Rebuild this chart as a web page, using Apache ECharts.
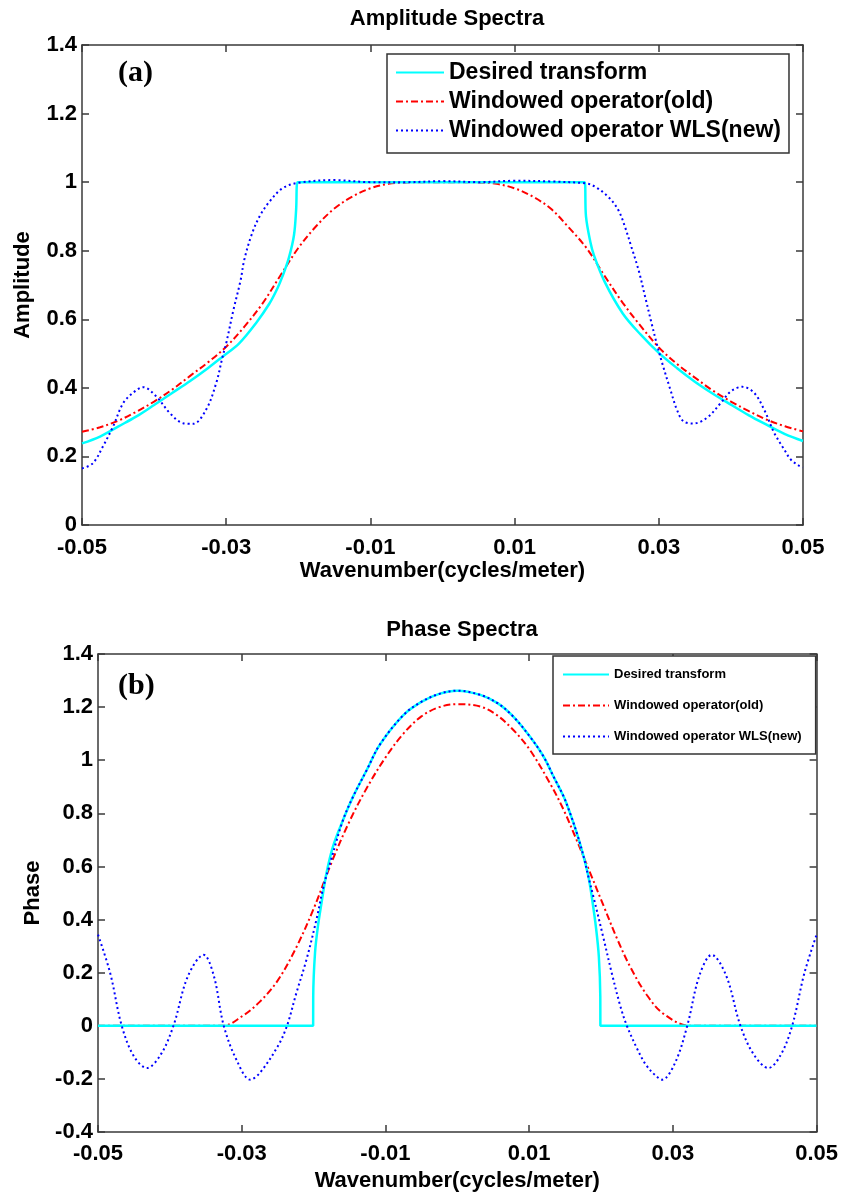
<!DOCTYPE html>
<html>
<head>
<meta charset="utf-8">
<script src="https://cdn.jsdelivr.net/npm/echarts@6/dist/echarts.min.js"></script>
<style>
html,body{margin:0;padding:0;background:#fff;}
#chart{width:841px;height:1194px;}
</style>
</head>
<body>
<div id="chart"></div>
<script>
// ---------- shared ----------
const seriesNames = ['Desired transform', 'Windowed operator(old)', 'Windowed operator WLS(new)'];
const xTicks = [-0.05, -0.03, -0.01, 0.01, 0.03, 0.05];

// ---------- (a) Amplitude spectra ----------
const ampDesiredX = [-0.05,-0.0475,-0.045,-0.0425,-0.04,-0.0375,-0.035,-0.0325,-0.0305,-0.0282,-0.0259,-0.024,-0.0229,-0.0222,-0.0213,-0.0206,-0.0203,-0.0201,0,0.0197,0.0199,0.0205,0.021,0.0225,0.025,0.0275,0.03,0.0325,0.035,0.0375,0.04,0.0425,0.045,0.0475,0.05];
const ampDesiredY = [0.238,0.258,0.287,0.316,0.35,0.385,0.42,0.458,0.491,0.53,0.588,0.646,0.69,0.725,0.78,0.845,0.92,1.0,1.0,1.0,0.90,0.826,0.787,0.709,0.617,0.555,0.502,0.458,0.418,0.383,0.351,0.32,0.292,0.265,0.245];

const ampOldX = [-0.05,-0.0475,-0.045,-0.0425,-0.04,-0.0375,-0.035,-0.0325,-0.03,-0.0275,-0.025,-0.0225,-0.02,-0.0175,-0.015,-0.0125,-0.01,-0.0075,-0.005,-0.0025,0,0.0025,0.005,0.0075,0.01,0.0125,0.015,0.0175,0.02,0.0225,0.025,0.0275,0.03,0.0325,0.035,0.0375,0.04,0.0425,0.045,0.0475,0.05];
const ampOldY = [0.272,0.285,0.304,0.33,0.36,0.395,0.435,0.475,0.52,0.578,0.645,0.727,0.808,0.872,0.923,0.958,0.982,0.995,0.999,1.0,1.0,1.0,0.999,0.995,0.982,0.958,0.923,0.868,0.807,0.726,0.648,0.58,0.518,0.47,0.43,0.392,0.36,0.332,0.307,0.288,0.273];

const ampNewX = [-0.05,-0.0485,-0.0471,-0.0457,-0.0443,-0.0429,-0.0415,-0.0397,-0.0378,-0.036,-0.0346,-0.0328,-0.0314,-0.0305,-0.03,-0.029,-0.028,-0.0275,-0.0265,-0.0254,-0.024,-0.0222,-0.02,-0.015,-0.01,-0.005,0,0.005,0.01,0.015,0.02,0.0212,0.023,0.0244,0.0253,0.0262,0.0272,0.0281,0.029,0.0297,0.0305,0.0316,0.0325,0.0334,0.0348,0.0367,0.0386,0.04,0.0416,0.0432,0.0446,0.046,0.0474,0.0483,0.0495,0.05];
const ampNewY = [0.165,0.18,0.229,0.287,0.355,0.386,0.402,0.375,0.326,0.297,0.295,0.336,0.413,0.491,0.53,0.627,0.714,0.773,0.845,0.899,0.943,0.982,0.998,1.006,1.0,1.0,1.003,1.0,1.004,1.002,0.996,0.986,0.957,0.918,0.87,0.811,0.743,0.666,0.588,0.53,0.47,0.395,0.337,0.303,0.296,0.313,0.356,0.39,0.403,0.386,0.337,0.269,0.22,0.191,0.172,0.168];

// ---------- (b) Phase spectra ----------
const phDesiredX = [-0.05,-0.02006,-0.02005,-0.0198,-0.0194,-0.0189,-0.0182,-0.0173,-0.0159,-0.0145,-0.0126,-0.0108,-0.0075,-0.005,-0.0025,0,0.0032,0.0056,0.0078,0.0101,0.012,0.0134,0.0148,0.0157,0.0167,0.0176,0.0183,0.0188,0.0193,0.0197,0.01990,0.01991,0.05];
const phDesiredY = [0,0,0.11,0.274,0.374,0.462,0.575,0.675,0.775,0.863,0.963,1.058,1.17,1.22,1.25,1.262,1.246,1.215,1.164,1.089,1.014,0.938,0.863,0.80,0.72,0.635,0.555,0.47,0.37,0.26,0.11,0,0];

const phOldX = [-0.05,-0.0326,-0.03,-0.0275,-0.025,-0.0225,-0.02,-0.0175,-0.015,-0.0125,-0.01,-0.0075,-0.005,-0.0025,0,0.0032,0.0055,0.0078,0.0101,0.0129,0.0148,0.0166,0.0185,0.0204,0.0222,0.0241,0.0264,0.0287,0.0324,0.05];
const phOldY = [0,0,0.035,0.09,0.17,0.29,0.44,0.615,0.77,0.90,1.01,1.10,1.165,1.2,1.211,1.202,1.17,1.114,1.039,0.913,0.813,0.70,0.575,0.449,0.33,0.22,0.115,0.045,0,0];

const phNewX = [-0.05,-0.0483,-0.0467,-0.045,-0.0432,-0.0413,-0.0395,-0.0375,-0.0353,-0.0339,-0.0325,-0.0307,-0.0288,-0.0275,-0.025,-0.0237,-0.0224,-0.021,-0.0196,-0.0187,-0.0177,-0.0159,-0.0145,-0.0126,-0.0108,-0.0075,-0.005,-0.0025,0,0.0032,0.0056,0.0078,0.0101,0.012,0.0134,0.0148,0.0157,0.0167,0.0176,0.0183,0.019,0.0204,0.0215,0.0227,0.0236,0.025,0.0262,0.0275,0.0285,0.0303,0.032,0.0337,0.0354,0.0374,0.0394,0.0413,0.0433,0.045,0.0466,0.0483,0.05];
const phNewY = [0.343,0.198,0,-0.115,-0.159,-0.11,0,0.186,0.267,0.19,0,-0.13,-0.203,-0.178,-0.078,0,0.123,0.248,0.40,0.515,0.612,0.775,0.863,0.963,1.058,1.17,1.22,1.25,1.262,1.246,1.215,1.164,1.089,1.014,0.938,0.863,0.80,0.72,0.635,0.555,0.48,0.324,0.198,0.073,0,-0.085,-0.145,-0.185,-0.203,-0.14,0,0.19,0.267,0.19,0,-0.11,-0.159,-0.11,0,0.198,0.343];

// ---------- build ----------
const pairs = (xs, ys) => xs.map((x, i) => [x, ys[i]]);
const FONT = '"Liberation Sans", Arial, sans-serif';
const FRAME = { color: '#3a3a3a', width: 1.5 };

const styles = [
  { color: '#00FFFF', width: 2.5, type: 'solid' },
  { color: '#FF0000', width: 2, type: [7, 3, 2, 3] },
  { color: '#0000FF', width: 2, type: [2, 3] }
];

function xAxes(grid, fontSize, labelMargin, nameGap) {
  const base = {
    gridIndex: grid, type: 'value', min: -0.05, max: 0.05,
    splitLine: { show: false },
    axisLine: { show: true, onZero: false, lineStyle: FRAME },
    axisTick: { show: true, inside: true, length: 7, customValues: xTicks, lineStyle: FRAME }
  };
  return [
    Object.assign({}, base, {
      position: 'bottom',
      axisLabel: { customValues: xTicks, formatter: v => v.toFixed(2), fontSize: fontSize, fontWeight: 'bold', fontFamily: FONT, color: '#000', margin: labelMargin },
      name: 'Wavenumber(cycles/meter)', nameLocation: 'middle', nameGap: nameGap,
      nameTextStyle: { fontSize: 22, fontWeight: 'bold', fontFamily: FONT, color: '#000' }
    }),
    Object.assign({}, base, { position: 'top', axisLabel: { show: false } })
  ];
}
function yAxes(grid, min, max, fontSize, name, nameGap) {
  const base = {
    gridIndex: grid, type: 'value', min: min, max: max, interval: 0.2,
    splitLine: { show: false },
    axisLine: { show: true, onZero: false, lineStyle: FRAME },
    axisTick: { show: true, inside: true, length: 7, lineStyle: FRAME }
  };
  return [
    Object.assign({}, base, {
      position: 'left',
      axisLabel: { formatter: v => String(+v.toFixed(1)), fontSize: fontSize, fontWeight: 'bold', fontFamily: FONT, color: '#000', margin: 5 },
      name: name, nameLocation: 'middle', nameGap: nameGap, nameRotate: 90,
      nameTextStyle: { fontSize: 22, fontWeight: 'bold', fontFamily: FONT, color: '#000' }
    }),
    Object.assign({}, base, { position: 'right', axisLabel: { show: false } })
  ];
}

const panels = [
  [pairs(ampDesiredX, ampDesiredY), pairs(ampOldX, ampOldY), pairs(ampNewX, ampNewY)],
  [pairs(phDesiredX, phDesiredY), pairs(phOldX, phOldY), pairs(phNewX, phNewY)]
];
const series = [];
panels.forEach((data, p) => {
  data.forEach((d, i) => {
    series.push({
      name: seriesNames[i], type: 'line', xAxisIndex: p * 2, yAxisIndex: p * 2,
      data: d, showSymbol: false, symbol: 'none', smooth: 0.35,
      lineStyle: styles[i], itemStyle: { color: styles[i].color },
      z: [3, 2, 4][i], animation: false
    });
  });
});

const option = {
  animation: false,
  backgroundColor: '#fff',
  title: [
    { text: 'Amplitude Spectra', left: 442, textAlign: 'center', top: 3,
      textStyle: { fontSize: 22, fontWeight: 'bold', fontFamily: FONT, color: '#000' } },
    { text: 'Phase Spectra', left: 457, textAlign: 'center', top: 614,
      textStyle: { fontSize: 22, fontWeight: 'bold', fontFamily: FONT, color: '#000' } }
  ],
  grid: [
    { left: 82, top: 45, width: 721, height: 480 },
    { left: 98, top: 654, width: 719, height: 478 }
  ],
  xAxis: xAxes(0, 22, 12, 30).concat(xAxes(1, 22, 11, 38)),
  yAxis: yAxes(0, 0, 1.4, 22, 'Amplitude', 48).concat(yAxes(1, -0.4, 1.4, 22, 'Phase', 54)),
  legend: [
    { data: seriesNames, orient: 'vertical', left: 387, top: 54, itemWidth: 48, itemHeight: 12, itemGap: 6,
      padding: [7, 8, 11, 8], borderColor: '#333', borderWidth: 1.5, backgroundColor: '#fff',
      itemStyle: { opacity: 0 },
      textStyle: { fontSize: 23, fontWeight: 'bold', fontFamily: FONT, color: '#000' }, selectedMode: false },
    { data: seriesNames, orient: 'vertical', left: 553, top: 656, itemWidth: 46, itemHeight: 12, itemGap: 18,
      padding: [12, 14, 11, 9], borderColor: '#333', borderWidth: 1.5, backgroundColor: '#fff',
      itemStyle: { opacity: 0 },
      textStyle: { fontSize: 13, fontWeight: 'bold', fontFamily: FONT, color: '#000' }, selectedMode: false }
  ],
  graphic: [
    { type: 'text', left: 118, top: 58, style: { text: '(a)', font: 'bold 30px "Liberation Serif", "Times New Roman", serif', fill: '#000' } },
    { type: 'text', left: 118, top: 671, style: { text: '(b)', font: 'bold 30px "Liberation Serif", "Times New Roman", serif', fill: '#000' } }
  ],
  series: series
};

const chart = echarts.init(document.getElementById('chart'), null, { renderer: 'canvas' });
chart.setOption(option);
</script>
</body>
</html>
